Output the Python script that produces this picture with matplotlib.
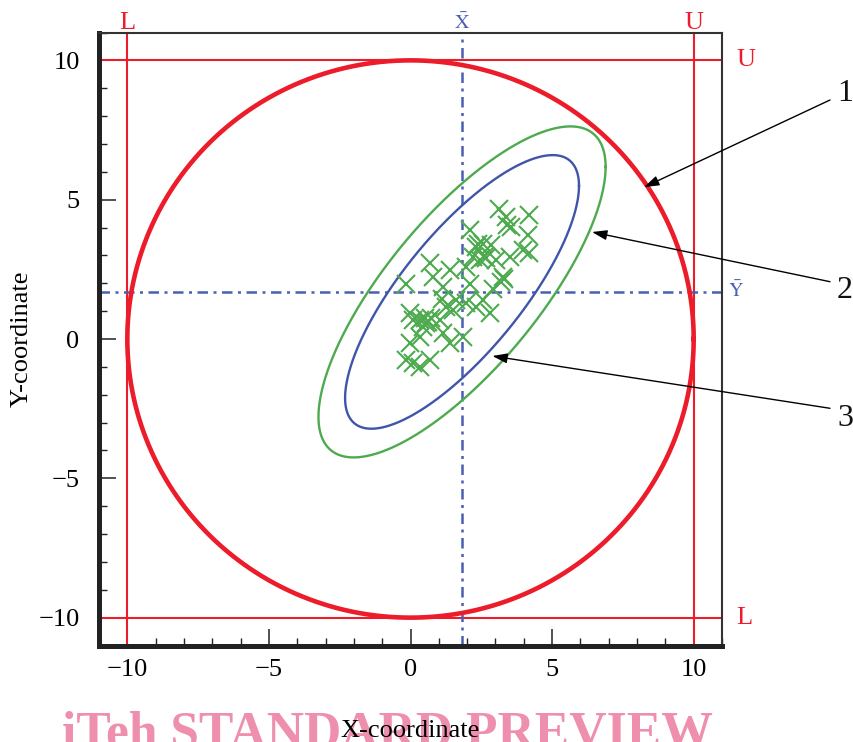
import numpy as np
import matplotlib
matplotlib.use("Agg")
import matplotlib.pyplot as plt
from matplotlib.ticker import MultipleLocator
import matplotlib.transforms as mtransforms

plt.rcParams['font.family'] = ['Liberation Serif', 'DejaVu Serif']
plt.rcParams['mathtext.fontset'] = 'stix'

# ---------------- data ----------------
pts_x = [3.14, 4.20, 3.38, 3.56, 2.09, 4.14, 2.56, 2.32, 2.85, 3.97,
         4.20, 2.20, 2.44, 2.68, 3.03, 3.50, 1.97, 0.68, 1.38, 3.26,
         3.20, -0.15, 0.79, 2.09, 1.14, 2.91, 2.56, 1.97, 1.62, 2.32,
         2.79, 1.50, -0.03, 0.32, 0.56, 0.09, 0.44, 0.74, 1.03, 1.14,
         1.85, 1.38, -0.03, 0.32, 0.09, 0.68, 0.32, -0.15, 1.26,
         0.50, 0.62, 3.40, 2.60, 3.30, 1.10, 2.40]
pts_y = [4.68, 4.46, 4.38, 4.02, 3.90, 3.72, 3.42, 3.30, 3.36, 3.18,
         3.07, 2.94, 2.83, 2.89, 2.83, 2.94, 2.59, 2.71, 2.47, 2.23,
         2.05, 1.99, 2.23, 1.99, 1.87, 1.81, 1.40, 1.28, 1.40, 1.16,
         0.92, 1.04, 0.92, 0.68, 0.56, 0.68, 0.44, 0.74, 0.68, 0.20,
         0.08, -0.15, -0.15, 0.08, -0.87, -0.75, -0.99, -0.75, 1.16,
         0.75, 0.62, 4.10, 2.95, 2.15, 1.45, 3.40]

x_bar = 1.82
y_bar = 1.69
limit_L = -10
limit_U = 10
circle_radius = 10

# ellipses: (sigma_x, sigma_y, rho)
ellipse_blue = (4.13, 4.91, 0.775)
ellipse_green = (5.07, 5.94, 0.755)

tick_major = 5
tick_minor = 1
axis_lim = (-11, 11)

# ---------------- colours ----------------
RED = '#EC1C2A'
GREEN = '#4DAA4F'
BLUE = '#3F56A8'
BLUE_D = '#4A5FB2'

fig = plt.figure(figsize=(8.54, 7.42), dpi=100)
ax = fig.add_axes([99 / 854, (742 - 645.5) / 742, 623 / 854, 613 / 742])

ax.set_xlim(*axis_lim)
ax.set_ylim(*axis_lim)

# limit lines
for v in (limit_L, limit_U):
    ax.axvline(v, color=RED, lw=1.5, zorder=2)
    ax.axhline(v, color=RED, lw=1.5, zorder=2)

# mean lines
dd = (0, (4.2, 2.2, 1.2, 2.2))
ax.axvline(x_bar, color=BLUE_D, lw=1.8, ls=dd, zorder=2)
ax.axhline(y_bar, color=BLUE_D, lw=1.8, ls=dd, zorder=2)

# circle
t = np.linspace(0, 2 * np.pi, 721)
ax.plot(circle_radius * np.cos(t), circle_radius * np.sin(t), color=RED, lw=3.3, zorder=3)

def ell(params):
    sx, sy, rho = params
    ex = x_bar + sx * np.cos(t)
    ey = y_bar + sy * (rho * np.cos(t) + np.sqrt(1 - rho ** 2) * np.sin(t))
    return ex, ey

gx, gy = ell(ellipse_green)
bx, by = ell(ellipse_blue)
ax.plot(gx, gy, color=GREEN, lw=1.7, zorder=3)
ax.plot(bx, by, color=BLUE, lw=1.7, zorder=3)

ax.plot(pts_x, pts_y, ls='none', marker='x', ms=12.5, mew=1.5, color=GREEN, zorder=4)

# spines
for s in ('left', 'bottom'):
    ax.spines[s].set_linewidth(3.6)
    ax.spines[s].set_color('#222222')
for s in ('top', 'right'):
    ax.spines[s].set_linewidth(1.5)
    ax.spines[s].set_color('#333333')

ax.xaxis.set_major_locator(MultipleLocator(tick_major))
ax.xaxis.set_minor_locator(MultipleLocator(tick_minor))
ax.yaxis.set_major_locator(MultipleLocator(tick_major))
ax.yaxis.set_minor_locator(MultipleLocator(tick_minor))
ax.tick_params(which='both', direction='in', top=False, right=False, color='#222222')
ax.tick_params(which='major', length=12, width=1.1, labelsize=19)
ax.tick_params(which='minor', length=5.5, width=1.0)
ax.tick_params(axis='x', which='major', pad=10)
ax.tick_params(axis='y', which='major', pad=14)

ax.set_xticks([-10, -5, 0, 5, 10])
ax.set_yticks([-10, -5, 0, 5, 10])

ax.set_xlabel('X-coordinate', fontsize=19, va='baseline')
ax.xaxis.set_label_coords(0.5, (645.5 - 736.7) / 613)
ax.set_ylabel('Y-coordinate', fontsize=19, va='center', ha='center')
ax.yaxis.set_label_coords((22 - 99) / 623, 0.5)

# labels on limits
tx = mtransforms.blended_transform_factory(ax.transData, ax.transAxes)
ty = mtransforms.blended_transform_factory(ax.transAxes, ax.transData)
top_y = 1 + 3.2 / 613
ax.text(limit_L, top_y, 'L', transform=tx, ha='center', va='baseline', color=RED, fontsize=19, clip_on=False)
ax.text(limit_U, top_y, 'U', transform=tx, ha='center', va='baseline', color=RED, fontsize=19, clip_on=False)
ax.text(x_bar, top_y, r'$\bar{\mathrm{X}}$', transform=tx, ha='center', va='baseline', color=BLUE_D, fontsize=14.5, clip_on=False)
rx = 1 + 14.5 / 623
ax.text(rx, limit_U, 'U', transform=ty, ha='left', va='center', color=RED, fontsize=19, clip_on=False)
ax.text(rx, limit_L, 'L', transform=ty, ha='left', va='center', color=RED, fontsize=19, clip_on=False)
ax.text(1 + 6 / 623, y_bar, r'$\bar{\mathrm{Y}}$', transform=ty, ha='left', va='center', color=BLUE_D, fontsize=14.5, clip_on=False)

# callouts
callouts = [('1', (8.25, 5.45), (830, 742 - 100), 93.3),
            ('2', (6.41, 3.84), (830, 742 - 281.7), 290),
            ('3', (2.89, -0.61), (830, 742 - 408.3), 418)]
for lab, tip, start, ly in callouts:
    ax.annotate('', xy=tip, xycoords='data', xytext=start, textcoords='figure pixels',
                arrowprops=dict(arrowstyle='-|>,head_length=0.45,head_width=0.15',
                                mutation_scale=20, color='black', lw=1.0,
                                shrinkA=0, shrinkB=0), annotation_clip=False)
    fig.text(837 / 854, (742 - ly) / 742, lab, ha='left', va='center', fontsize=23, color='#111111')

# watermark
fig.text(62 / 854, (742 - 747) / 742, 'iTeh STANDARD PREVIEW', ha='left', va='baseline',
         fontsize=37.2, fontweight='bold', color='#EE8FAD', zorder=-1)

fig.savefig('out.png', dpi=100)
